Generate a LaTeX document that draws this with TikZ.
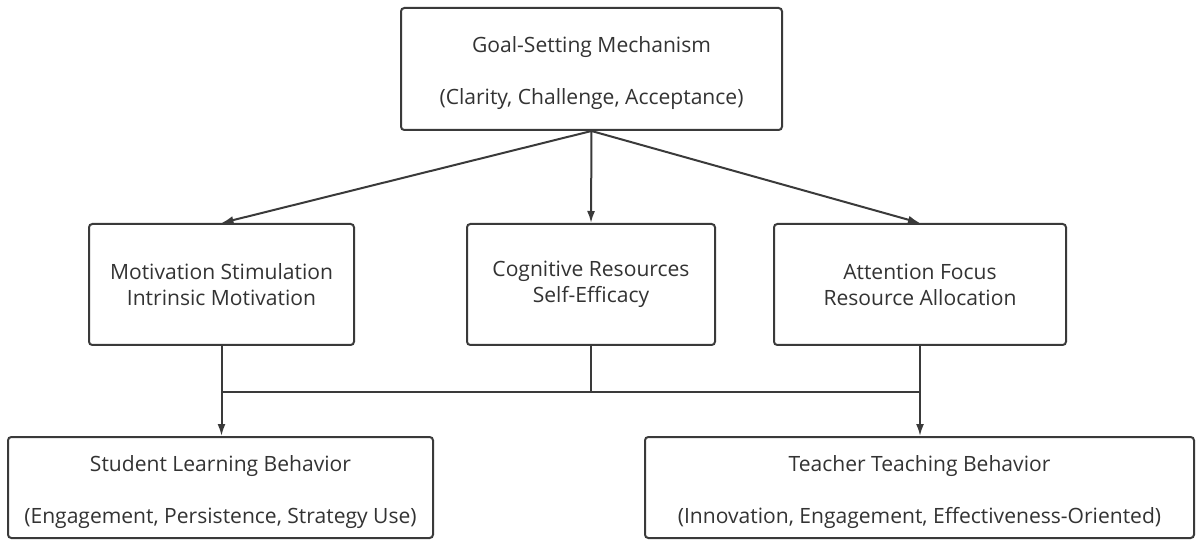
\documentclass[tikz,border=0pt]{standalone}
\usepackage{fontspec}
\setmainfont{Open Sans}
\usetikzlibrary{arrows.meta,calc}
\definecolor{linec}{HTML}{3A3A3A}
\definecolor{textc}{HTML}{333333}
\newcommand{\toppad}{\rule{0pt}{18.5pt}}
\begin{document}
\begin{tikzpicture}[x=0.75pt,y=-0.75pt,
  box/.style={draw=linec,line width=1.5pt,rounded corners=2.5pt,fill=white,
    align=center,inner sep=0pt,text=textc,
    font=\fontsize{15.8pt}{19.5pt}\selectfont},
  conn/.style={draw=linec,line width=1.5pt},
  arr/.style={conn,-{Latex[length=9pt,width=6pt]}}]
\useasboundingbox (0,0) rectangle (1200,545);
\node[box,minimum width=381*0.75pt,minimum height=122*0.75pt] (top) at (591.5,69)
  {\toppad Goal-Setting Mechanism\\[19.5pt](Clarity, Challenge, Acceptance)};
\node[box,minimum width=265*0.75pt,minimum height=121*0.75pt] (mot) at (221.5,284.5)
  {Motivation Stimulation\\Intrinsic Motivation};
\node[box,minimum width=248*0.75pt,minimum height=121*0.75pt] (cog) at (591,284.5)
  {Cognitive Resources\\Self-Efficacy};
\node[box,minimum width=292*0.75pt,minimum height=121*0.75pt] (att) at (920,284.5)
  {Attention Focus\\Resource Allocation};
\node[box,minimum width=425*0.75pt,minimum height=101*0.75pt] (stu) at (220.5,487.5)
  {\toppad Student Learning Behavior\\[19.5pt](Engagement, Persistence, Strategy Use)};
\node[box,minimum width=549*0.75pt,minimum height=101*0.75pt] (tea) at (919.5,487.5)
  {\toppad Teacher Teaching Behavior\\[19.5pt](Innovation, Engagement, Effectiveness-Oriented)};
\draw[arr] (top.south) -- (mot.north);
\draw[arr] (top.south) -- (cog.north);
\draw[arr] (top.south) -- (att.north);
\coordinate (busL) at ($(mot.south)+(0,46)$);
\coordinate (busR) at ($(att.south)+(0,46)$);
\draw[conn] (cog.south) -- (cog.south |- busL);
\draw[conn] (busL) -- (busR);
\draw[arr] (mot.south) -- (mot.south |- stu.north);
\draw[arr] (att.south) -- (att.south |- tea.north);
\end{tikzpicture}
\end{document}
